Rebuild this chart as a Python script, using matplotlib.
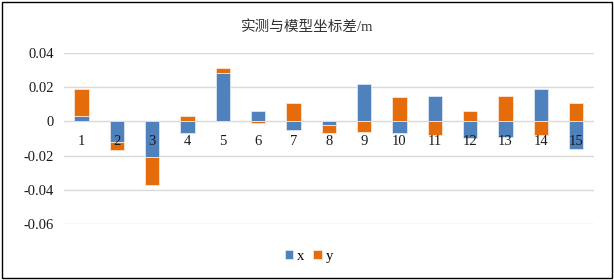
import numpy as np
import matplotlib
matplotlib.use("Agg")
import matplotlib.pyplot as plt
from matplotlib.patches import Rectangle

# --- data ---
categories = [str(i) for i in range(1, 16)]
dx = [0.003, -0.012, -0.021, -0.007, 0.028, 0.006, -0.005, -0.002,
      0.022, -0.007, 0.015, -0.010, -0.009, 0.019, -0.016]
dy = [0.016, -0.005, -0.016, 0.003, 0.003, -0.001, 0.011, -0.005,
      -0.006, 0.014, -0.008, 0.006, 0.015, -0.008, 0.011]
yticks = [0.04, 0.02, 0, -0.02, -0.04, -0.06]
ytick_labels = ["0.04", "0.02", "0", "-0.02", "-0.04", "-0.06"]
title = "实测与模型坐标差/m"

blue = "#4F81BD"
orange = "#E46C0A"
serif = ["Liberation Serif", "Noto Sans CJK SC"]

fig = plt.figure(figsize=(6.14, 2.80), dpi=100)
ax = fig.add_axes([0.104, 0.2, 0.863, 0.611])

pos = np.arange(len(categories))
x_arr = np.array(dx)
y_arr = np.array(dy)
# Excel-style stacking: same-sign values stack on top of x, opposite sign starts at 0
y_bottom = np.where(np.sign(x_arr) == np.sign(y_arr), x_arr, 0.0)

ax.bar(pos, x_arr, width=0.41, color=blue, edgecolor="#DCE6F2", linewidth=0.6,
       label="x", zorder=2)
ax.bar(pos, y_arr, width=0.41, bottom=y_bottom, color=orange, edgecolor="#FBE5D6",
       linewidth=0.6, label="y", zorder=2)

ax.set_xlim(-0.5, len(categories) - 0.5)
ax.set_ylim(-0.06, 0.04)
ax.set_yticks(yticks)
ax.set_yticklabels(ytick_labels, family=serif, fontsize=10.5, color="#1a1a1a")
ax.tick_params(axis="y", length=0, pad=7)
ax.set_xticks([])
ax.grid(axis="y", color="#D9D9D9", linewidth=1.0, zorder=0)
ax.set_axisbelow(True)
for s in ax.spines.values():
    s.set_visible(False)

# category labels sit just under the zero line
for i, lab in zip(pos, categories):
    ax.annotate(lab, (i, 0), xytext=(0, -10), textcoords="offset points",
                ha="center", va="top", family=serif, fontsize=10.5,
                color="#1a1a1a", zorder=5)

fig.text(0.5, 0.905, title, ha="center", va="center", family=serif,
         fontsize=10.5, color="#333333")

leg = fig.legend(loc="center", bbox_to_anchor=(0.503, 0.085), ncol=2, frameon=False,
                 prop={"family": serif, "size": 10.5}, handlelength=0.6,
                 handleheight=0.6, handletextpad=0.25, columnspacing=0.6)

# outer border of the chart
fig.patches.append(Rectangle((0.004, 0.007), 0.992, 0.986, transform=fig.transFigure,
                             fill=False, edgecolor="black", linewidth=1.0))

fig.savefig("out.png", dpi=100)
